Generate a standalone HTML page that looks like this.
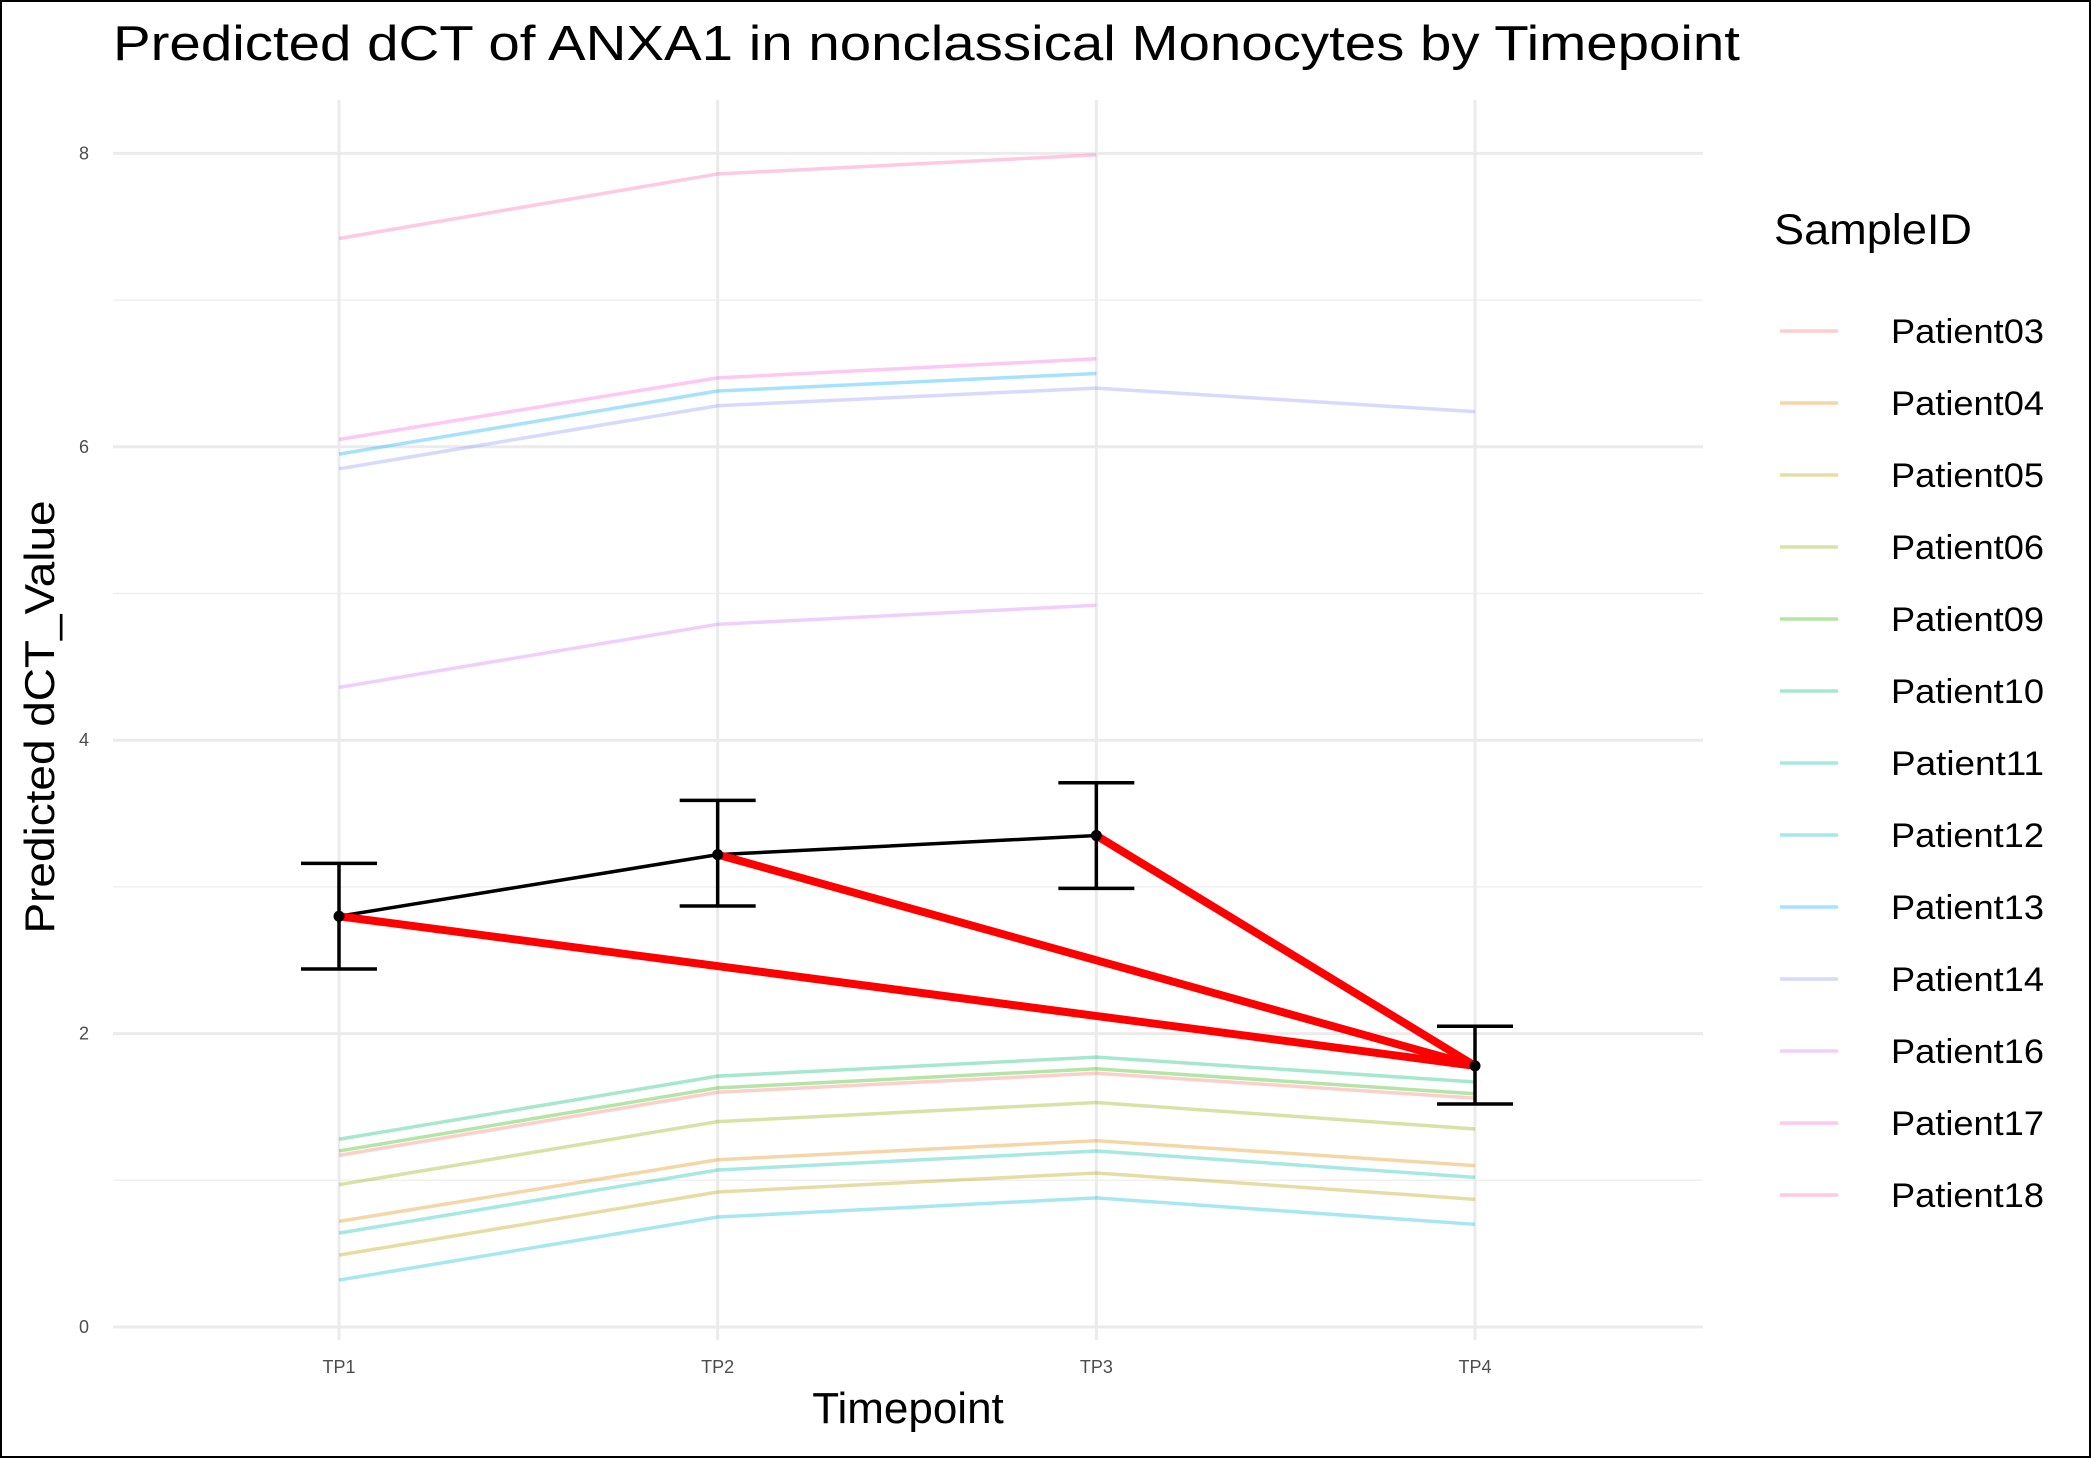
<!DOCTYPE html>
<html><head><meta charset="utf-8"><style>
html,body{margin:0;padding:0;background:#fff}
svg{display:block;font-family:"Liberation Sans",sans-serif}
</style></head><body>
<svg id="chart" width="2091" height="1458" viewBox="0 0 2091 1458">
<rect x="1" y="1" width="2089" height="1456" fill="#fff" stroke="#000" stroke-width="2"/>
<text x="113" y="60" font-size="49" textLength="1627" lengthAdjust="spacingAndGlyphs" fill="#000">Predicted dCT of  ANXA1 in  nonclassical  Monocytes by Timepoint</text>
<g id="grid"></g>
<g id="series"></g>
<g id="axes"></g>
<g id="legend"></g>
<text x="908" y="1423" font-size="44" text-anchor="middle">Timepoint</text>
<text transform="translate(54,717) rotate(-90)" font-size="42" text-anchor="middle" textLength="433" lengthAdjust="spacingAndGlyphs">Predicted dCT_Value</text>
</svg>
<script>
const categories = ["TP1","TP2","TP3","TP4"];
const yTicks = [0,2,4,6,8];
const yTickLabels = ["0","2","4","6","8"];
const patients = ["Patient03","Patient04","Patient05","Patient06","Patient09","Patient10","Patient11","Patient12","Patient13","Patient14","Patient16","Patient17","Patient18"];
const colors = ["#F8766D","#E18A00","#BE9C00","#8CAB00","#24B700","#00BE70","#00C1AB","#00BBDA","#00ACFC","#8B93FF","#D575FE","#F962DD","#FF65AC"];
const p03 = [1.17,1.60,1.73,1.56];
const p04 = [0.72,1.14,1.27,1.10];
const p05 = [0.49,0.92,1.05,0.87];
const p06 = [0.97,1.40,1.53,1.35];
const p09 = [1.20,1.63,1.76,1.59];
const p10 = [1.28,1.71,1.84,1.67];
const p11 = [0.64,1.07,1.20,1.02];
const p12 = [0.32,0.75,0.88,0.70];
const p13 = [5.95,6.38,6.50,null];
const p14 = [5.85,6.28,6.40,6.24];
const p16 = [4.36,4.79,4.92,null];
const p17 = [6.05,6.47,6.60,null];
const p18 = [7.42,7.86,7.99,null];
const meanValues = [2.80,3.22,3.35,1.78];
const errLow = [2.44,2.87,2.99,1.52];
const errHigh = [3.16,3.59,3.71,2.05];
const seriesValues = [p03,p04,p05,p06,p09,p10,p11,p12,p13,p14,p16,p17,p18];

const NS="http://www.w3.org/2000/svg";
const X0=113,X1=1703,Y0=100,Y1=1340;
const xScale=i=>339+i*378.67;
const yScale=v=>1327-v*146.7;
function mk(tag,attrs,parent){const e=document.createElementNS(NS,tag);for(const k in attrs)e.setAttribute(k,attrs[k]);parent.appendChild(e);return e;}
const grid=document.getElementById('grid'),series=document.getElementById('series'),axes=document.getElementById('axes'),legend=document.getElementById('legend');
for(let v=1;v<8;v+=2){const l=mk('line',{x1:X0,x2:X1,y1:yScale(v),y2:yScale(v),stroke:'#f0f0f0','stroke-width':1.5},grid);

}
yTicks.forEach((v,i)=>{const l=mk('line',{x1:X0,x2:X1,y1:yScale(v),y2:yScale(v),stroke:'#ebebeb','stroke-width':3},grid);


const t=mk('text',{x:89,y:yScale(v)+6,'font-size':18,fill:'#4d4d4d','text-anchor':'end'},axes);t.textContent=yTickLabels[i];

});
categories.forEach((c,i)=>{const l=mk('line',{x1:xScale(i),x2:xScale(i),y1:Y0,y2:Y1,stroke:'#ebebeb','stroke-width':3},grid);


const t=mk('text',{x:xScale(i),y:1373,'font-size':18,fill:'#4d4d4d','text-anchor':'middle'},axes);t.textContent=c;

});
seriesValues.forEach((vals,s)=>{const pts=[];vals.forEach((v,i)=>{if(v!==null)pts.push(xScale(i)+','+yScale(v));});
const p=mk('polyline',{points:pts.join(' '),fill:'none',stroke:colors[s],'stroke-opacity':0.35,'stroke-width':3.5},series);

});
const mp=mk('polyline',{points:meanValues.map((v,i)=>xScale(i)+','+yScale(v)).join(' '),fill:'none',stroke:'#000','stroke-width':3.5},series);


meanValues.forEach((v,i)=>{const g=mk('g',{},series);


const x=xScale(i),w=38;
mk('line',{x1:x,x2:x,y1:yScale(errLow[i]),y2:yScale(errHigh[i]),stroke:'#000','stroke-width':3.5},g);
mk('line',{x1:x-w,x2:x+w,y1:yScale(errLow[i]),y2:yScale(errLow[i]),stroke:'#000','stroke-width':3.5},g);
mk('line',{x1:x-w,x2:x+w,y1:yScale(errHigh[i]),y2:yScale(errHigh[i]),stroke:'#000','stroke-width':3.5},g);});
for(let i=0;i<3;i++){const r=mk('line',{x1:xScale(i),y1:yScale(meanValues[i]),x2:xScale(3),y2:yScale(meanValues[3]),stroke:'#ff0000','stroke-width':8,'stroke-linecap':'round'},series);

}
meanValues.forEach((v,i)=>{const c=mk('circle',{cx:xScale(i),cy:yScale(v),r:5.5,fill:'#000'},series);

});
const lt=mk('text',{x:1774,y:244,'font-size':43,textLength:198,lengthAdjust:'spacingAndGlyphs'},legend);lt.textContent='SampleID';


patients.forEach((p,s)=>{const y=331+s*72;const g=mk('g',{},legend);


mk('line',{x1:1780,x2:1838,y1:y,y2:y,stroke:colors[s],'stroke-opacity':0.35,'stroke-width':3.5},g);
const t=mk('text',{x:1891,y:y+12,'font-size':34,textLength:153,lengthAdjust:'spacingAndGlyphs'},g);t.textContent=p;});
</script>
</body></html>
